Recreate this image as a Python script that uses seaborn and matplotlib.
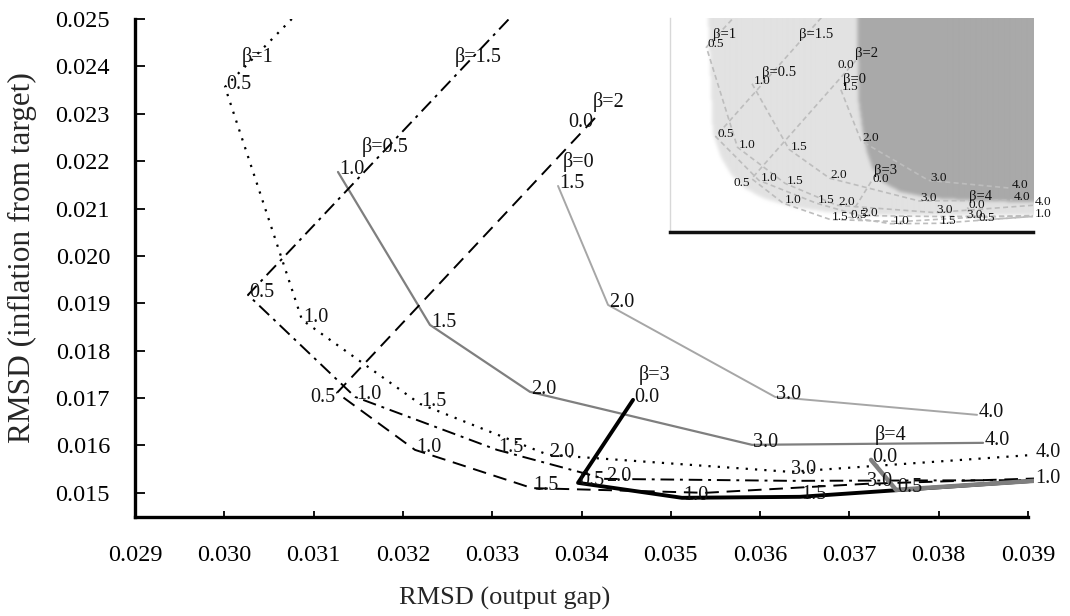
import matplotlib
matplotlib.use("Agg")
import matplotlib.pyplot as plt
import seaborn as sns
import numpy as np
from matplotlib.path import Path

sns.set_theme(style="white")
plt.rcParams["font.family"] = ["Liberation Serif", "DejaVu Serif"]

# ---- frontier data: RMSD of output gap (x) and inflation (y) per beta ----
# each beta traces a curve as the response coefficient (node labels) varies
b0_par = [1.5, 2.0, 3.0, 4.0]
b0_x = [0.033737, 0.034297, 0.036167, 0.038429]
b0_y = [0.021477, 0.018966, 0.017025, 0.016646]

b05_par = [1.0, 1.5, 2.0, 3.0, 4.0]
b05_x = [0.031273, 0.032303, 0.033423, 0.035909, 0.038496]
b05_y = [0.021772, 0.018544, 0.017131, 0.016013, 0.016055]

b1_par = [0.0, 0.5, 1.0, 1.5, 2.0, 3.0, 4.0]
b1_x = [0.031184, 0.030008, 0.030870, 0.032191, 0.033625, 0.036335, 0.039067]
b1_y = [0.025823, 0.023565, 0.018650, 0.016878, 0.015802, 0.015443, 0.015802]

b15_par = [0.0, 0.5, 1.0, 1.5, 2.0, 3.0, 4.0]
b15_x = [0.033759, 0.030265, 0.031464, 0.033054, 0.034263, 0.036357, 0.040030]
b15_y = [0.026139, 0.019177, 0.017025, 0.015907, 0.015295, 0.015253, 0.015274]

b2_par = [0.0, 0.5, 1.0, 1.5, 2.0, 3.0, 4.0]
b2_x = [0.034151, 0.031262, 0.032135, 0.033446, 0.035383, 0.037186, 0.040030]
b2_y = [0.022911, 0.017110, 0.015907, 0.015100, 0.015000, 0.015190, 0.015359]

b3_par = [0.0, 0.5, 1.0, 1.5, 2.0]
b3_x = [0.034577, 0.033961, 0.035125, 0.036447, 0.040366]
b3_y = [0.016962, 0.015211, 0.014895, 0.014916, 0.015422]

b4_par = [0.0, 0.5, 1.0]
b4_x = [0.037242, 0.037522, 0.039067]
b4_y = [0.015696, 0.015063, 0.015253]

beta_names = ["β=0", "β=0.5", "β=1", "β=1.5", "β=2", "β=3", "β=4"]
# where each beta caption sits (left edge, vertical centre), data units
beta_text_x = [0.033793, 0.031542, 0.030198, 0.032583, 0.034129, 0.034644, 0.037287]
beta_text_y = [0.021983, 0.022300, 0.024198, 0.024198, 0.023249, 0.017489, 0.016224]

x_ticks = [0.029, 0.030, 0.031, 0.032, 0.033, 0.034, 0.035, 0.036, 0.037, 0.038, 0.039]
y_ticks = [0.015, 0.016, 0.017, 0.018, 0.019, 0.020, 0.021, 0.022, 0.023, 0.024, 0.025]

# shaded regions of the thumbnail (axes fractions)
light_fx = [0.105, 0.118, 0.140, 0.170, 0.205, 0.260, 0.339, 0.433, 0.523, 1.0, 1.0]
light_fy = [1.0, 0.463, 0.350, 0.265, 0.205, 0.155, 0.117, 0.093, 0.079, 0.079, 1.0]
dark_fx = [0.515, 0.518, 0.529, 0.540, 0.556, 0.584, 0.634, 0.716, 0.854, 1.0, 1.0]
dark_fy = [1.0, 0.617, 0.477, 0.383, 0.299, 0.234, 0.187, 0.159, 0.145, 0.140, 1.0]

XLIM = (0.029, 0.039067)
YLIM = (0.01449, 0.025)

# style, plus which node labels sit left of the node or are left unlabelled
series = [
    (b0_par, b0_x, b0_y, dict(color="#a6a6a6", lw=1.4, ls="-"), (), ()),
    (b05_par, b05_x, b05_y, dict(color="#7f7f7f", lw=1.6, ls="-"), (), ()),
    (b1_par, b1_x, b1_y, dict(color="black", lw=1.6, ls=(0, (1, 3.2))), (), ()),
    (b15_par, b15_x, b15_y, dict(color="black", lw=1.4, ls=(0, (7, 3, 1.5, 3))), (), (3.0,)),
    (b2_par, b2_x, b2_y, dict(color="black", lw=1.4, ls=(0, (7, 4))), (0.0, 0.5), (2.0,)),
    (b3_par, b3_x, b3_y, dict(color="black", lw=2.8, ls="-"), (), ()),
    (b4_par, b4_x, b4_y, dict(color="#7f7f7f", lw=3.2, ls="-"), (), ()),
]


def inside(x, y):
    return XLIM[0] - 1e-9 <= x <= XLIM[1] + 1e-9 and YLIM[0] <= y <= YLIM[1]


def draw_frontiers(ax, fs_node, fs_beta, style_override=None):
    for par, xs, ys, st, left_side, unlabelled in series:
        kw = dict(st)
        if style_override is not None:
            kw.update(style_override)
        df = {"x": xs, "y": ys}
        sns.lineplot(data=df, x="x", y="y", sort=False, estimator=None,
                     color=kw["color"], linewidth=kw["lw"], linestyle=kw["ls"],
                     ax=ax, legend=False)
        for p, x, y in zip(par, xs, ys):
            if not inside(x, y) or p in unlabelled:
                continue
            if p in left_side:
                ha, off = "right", (-1, -3)
            else:
                ha, off = "left", (1, 2)
            ax.annotate(f"{p:.1f}", (x, y), xytext=off, textcoords="offset points",
                        ha=ha, va="center", fontsize=fs_node, color="#111111",
                        annotation_clip=False)
    for name, tx, ty in zip(beta_names, beta_text_x, beta_text_y):
        ax.text(tx, ty, name, ha="left", va="center", fontsize=fs_beta, color="#111111")


fig = plt.figure(figsize=(10.70, 6.16), dpi=100)
ax = fig.add_axes([0.12617, 0.16071, 0.84019, 0.80845])
ax.set_facecolor("white")

draw_frontiers(ax, 14.5, 14.5)

ax.set_xlim(*XLIM)
ax.set_ylim(*YLIM)
ax.set_xticks(x_ticks)
ax.set_yticks(y_ticks)
ax.set_xticklabels([f"{v:.3f}" for v in x_ticks])
ax.set_yticklabels([f"{v:.3f}" for v in y_ticks])
ax.tick_params(axis="x", direction="in", length=4.5, width=1.3, pad=20, labelsize=17.5,
               bottom=True, colors="black")
ax.tick_params(axis="y", direction="in", length=7.5, width=1.3, pad=18, labelsize=17.5,
               left=True, colors="black")
for s in ("top", "right"):
    ax.spines[s].set_visible(False)
for s in ("left", "bottom"):
    ax.spines[s].set_color("black")
    ax.spines[s].set_linewidth(2.4)
ax.spines["bottom"].set_bounds(0.029, 0.039)

ax.set_xlabel("RMSD (output gap)", fontsize=19)
ax.set_ylabel("RMSD (inflation from target)", fontsize=22.5)
ax.xaxis.set_label_coords(0.4116, -0.1627)
ax.xaxis.label.set_va("center")
ax.yaxis.set_label_coords(-0.1257, 0.52)
ax.yaxis.label.set_va("center")

# ---- inset: shaded thumbnail of the same frontiers ----
ins = fig.add_axes([0.6262, 0.6234, 0.3393, 0.3474])
ins.set_facecolor("white")

# soft-edged shading built on a pixel grid
nx, ny = 363, 214
gx, gy = np.meshgrid((np.arange(nx) + 0.5) / nx, (np.arange(ny) + 0.5) / ny)
pts = np.column_stack([gx.ravel(), gy.ravel()])
shade = np.ones(nx * ny)
shade[Path(np.column_stack([light_fx, light_fy])).contains_points(pts)] = 0.886
shade[Path(np.column_stack([dark_fx, dark_fy])).contains_points(pts)] = 0.663
shade = shade.reshape(ny, nx)
k = np.exp(-0.5 * (np.arange(-5, 6) / 1.8) ** 2)
k /= k.sum()
pad = np.pad(shade, 5, mode="edge")
pad = np.apply_along_axis(lambda r: np.convolve(r, k, mode="same"), 1, pad)
pad = np.apply_along_axis(lambda c: np.convolve(c, k, mode="same"), 0, pad)
shade = pad[5:-5, 5:-5]
ins.imshow(shade, cmap="gray", vmin=0, vmax=1, origin="lower", extent=(0, 1, 0, 1),
           transform=ins.transAxes, aspect="auto", interpolation="bilinear", zorder=0)

draw_frontiers(ins, 9.5, 10.5, style_override=dict(color="#bdbdbd", lw=1.2, ls=(0, (3, 2))))

ins.set_xlim(*XLIM)
ins.set_ylim(*YLIM)
ins.set_xticks(x_ticks)
ins.set_yticks(y_ticks)
ins.set_xticklabels([])
ins.set_yticklabels([])
ins.set_xlabel("")
ins.set_ylabel("")
ins.tick_params(axis="both", direction="in", length=3, width=0.8, colors="#cfcfcf")
for s in ("top", "right"):
    ins.spines[s].set_visible(False)
ins.spines["left"].set_color("#d8d8d8")
ins.spines["left"].set_linewidth(1.0)
ins.spines["bottom"].set_color("#111111")
ins.spines["bottom"].set_linewidth(2.5)

fig.savefig("out.png", dpi=100, facecolor="white")
